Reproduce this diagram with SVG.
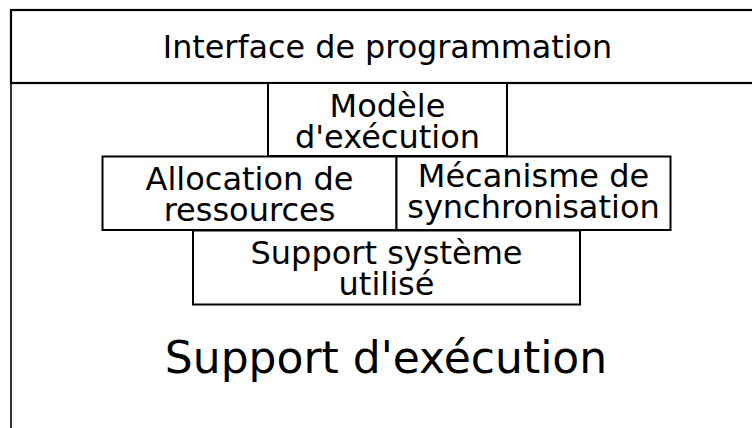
<svg xmlns="http://www.w3.org/2000/svg" width="752" height="428" viewBox="0 0 752 428">
<style>
.box{fill:#fff;stroke:#000;stroke-width:2}
.t{font-family:"DejaVu Sans","Liberation Sans",sans-serif;fill:#000;text-anchor:middle}
.s{font-size:32px}
</style>
<rect width="752" height="428" fill="#fff"/>
<g id="support-execution">
<rect x="11" y="83" width="760" height="400" fill="#fff" stroke="#000" stroke-width="1.6"/>
<text class="t" x="386" y="373" font-size="44">Support d'exécution</text>
</g>
<g id="interface">
<rect x="11" y="10" width="760" height="73" fill="#fff" stroke="#000" stroke-width="2.2"/>
<text class="t" x="387.5" y="57.5" font-size="31.8">Interface de programmation</text>
</g>
<g id="modele">
<rect class="box" x="268" y="83" width="239" height="73"/>
<text class="t s" x="387.5" y="117">Modèle</text>
<text class="t s" x="387.5" y="148">d'exécution</text>
</g>
<g id="allocation">
<rect class="box" x="102.5" y="156.5" width="294" height="73.5"/>
<text class="t s" x="249.5" y="190">Allocation de</text>
<text class="t s" x="249.5" y="221">ressources</text>
</g>
<g id="mecanisme">
<rect class="box" x="396.5" y="156.5" width="274" height="73.5"/>
<text class="t s" x="533.5" y="187">Mécanisme de</text>
<text class="t s" x="533.5" y="218">synchronisation</text>
</g>
<g id="support-systeme">
<rect class="box" x="193" y="230.5" width="387" height="74"/>
<text class="t s" x="386.5" y="264">Support système</text>
<text class="t s" x="386.5" y="295">utilisé</text>
</g>
<g id="connectors"/>
</svg>
